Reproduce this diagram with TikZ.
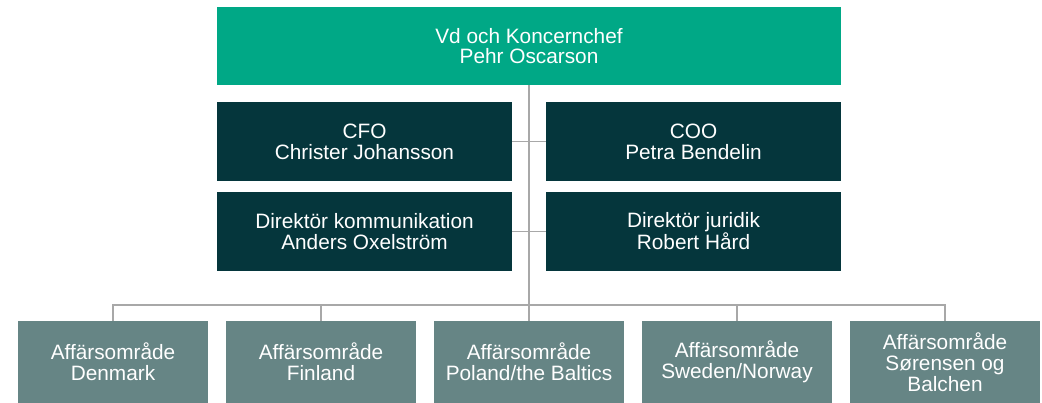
\documentclass[tikz,border=0pt]{standalone}
\usepackage{fontspec}
\setmainfont{Liberation Sans}
\usepackage{tikz}

\definecolor{ledgreen}{HTML}{00A886}
\definecolor{leddark}{HTML}{05363C}
\definecolor{legray}{HTML}{668585}
\definecolor{lineg}{HTML}{A8A8A8}

\begin{document}
\begin{tikzpicture}[x=1pt, y=-1pt,
  box/.style={draw=none, text=white, align=center, inner sep=0pt,
    font=\fontsize{20.8}{20.8}\selectfont},
  topbox/.style={box, fill=ledgreen, minimum width=624pt, minimum height=78pt},
  mgmt/.style={box, fill=leddark, minimum width=295pt, minimum height=79pt},
  area/.style={box, fill=legray, minimum width=190pt, minimum height=82pt},
  conn/.style={draw=lineg, line width=1.4pt}]

  % Page size
  \useasboundingbox (0,0) rectangle (1042,403);

  % Bus height for the business areas
  \def\B{305}

  % Top box
  \node[topbox] (ceo) at (529,46) {Vd och Koncernchef\\Pehr Oscarson};

  % Management boxes
  \node[mgmt] (cfo) at (364.5,141.5) {CFO\\Christer Johansson};
  \node[mgmt] (coo) at (693.5,141.5) {COO\\Petra Bendelin};
  \node[mgmt] (kom) at (364.5,231.5) {Direktör kommunikation\\Anders Oxelström};
  \node[mgmt] (jur) at (693.5,231.5) {Direktör juridik\\Robert Hård};

  % Business areas
  \foreach \i/\x/\txt in {1/113/{Affärsområde\\Denmark},
                          2/321/{Affärsområde\\Finland},
                          3/529/{Affärsområde\\Poland/the Baltics},
                          4/737/{Affärsområde\\Sweden/Norway},
                          5/945/{Affärsområde\\Sørensen og\\Balchen}} {
    \node[area] (ba\i) at (\x,362) {\txt};
  }

  % Lines
  \draw[conn] (ceo.south) -- (ba3.north);
  \draw[conn] (cfo.east) -- (coo.west);
  \draw[conn] (kom.east) -- (jur.west);
  \draw[conn] (ba1.north) -- (ba1.north |- 0,\B) -| (ba5.north);
  \foreach \i in {2,4} {
    \draw[conn] (ba\i.north) -- (ba\i.north |- 0,\B);
  }

\end{tikzpicture}
\end{document}
